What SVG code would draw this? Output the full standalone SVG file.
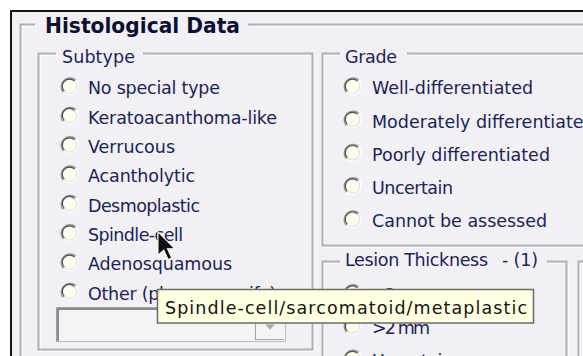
<svg xmlns="http://www.w3.org/2000/svg" width="583" height="356" viewBox="0 0 583 356">
  <style>
    text { font-family: "DejaVu Sans", Verdana, sans-serif; font-size: 17.5px; fill: #1a2455; }
    .title { font-weight: bold; font-size: 21.5px; fill: #0c1030; }
    .etch { fill: none; stroke: #b0afb4; stroke-width: 2; }
    .etch-hi { fill: none; stroke: #ffffff; stroke-width: 1; }
    .tip-text { fill: #141414; }
  </style>
  <defs>
    <!-- sunken classic radio button, centred on 0,0 -->
    <g id="radio">
      <circle r="8.2" fill="#fffdee"/>
      <path d="M-6.2,6.2 A8.8,8.8 0 0 1 6.2,-6.2" fill="none" stroke="#959595" stroke-width="1.4"/>
      <path d="M-5.1,5.1 A7.2,7.2 0 0 1 5.1,-5.1" fill="none" stroke="#4e4e4e" stroke-width="1.2"/>
      <path d="M6.2,-6.2 A8.8,8.8 0 0 1 -6.2,6.2" fill="none" stroke="#ffffff" stroke-width="1.4"/>
      <path d="M5.1,-5.1 A7.2,7.2 0 0 1 -5.1,5.1" fill="none" stroke="#e2e0da" stroke-width="1.2"/>
    </g>
  </defs>

  <!-- window surface -->
  <rect width="583" height="356" fill="#ffffff"/>
  <rect x="10" y="10" width="573" height="346" fill="#f2f0f4"/>
  <path d="M11,356 V11 H583" fill="none" stroke="#141414" stroke-width="2"/>

  <!-- etched group box frames -->
  <g id="frames">
    <g transform="translate(1.5,1.5)" class="etch-hi">
      <path d="M35,24.5 H20.5 V356 M248,24.5 H583"/>
      <path d="M56,53.5 H38.5 V349.5 H312.5 V53.5 H143"/>
      <path d="M340,53.5 H322.5 V245.5 H583 M407,53.5 H583"/>
      <path d="M340,261.5 H322.5 V356 M547,261.5 H566.5 V356"/>
      <path d="M583,261.5 H578.5 V356"/>
    </g>
    <g class="etch">
      <path d="M35,24.5 H20.5 V356 M248,24.5 H583"/>
      <path d="M56,53.5 H38.5 V349.5 H312.5 V53.5 H143"/>
      <path d="M340,53.5 H322.5 V245.5 H583 M407,53.5 H583"/>
      <path d="M340,261.5 H322.5 V356 M547,261.5 H566.5 V356"/>
      <path d="M583,261.5 H578.5 V356"/>
    </g>
  </g>

  <!-- section title -->
  <text id="histological-title" class="title" x="45" y="33" textLength="195" lengthAdjust="spacingAndGlyphs">Histological Data</text>

  <!-- Subtype options -->
  <g id="subtype">
    <text x="62" y="63.3" textLength="73">Subtype</text>
    <use href="#radio" x="69.5" y="86.3"/>
    <text x="88" y="94.3" textLength="132">No special type</text>
    <use href="#radio" x="69.5" y="115.6"/>
    <text x="88" y="123.6" textLength="189">Keratoacanthoma-like</text>
    <use href="#radio" x="69.5" y="145"/>
    <text x="88" y="153" textLength="87">Verrucous</text>
    <use href="#radio" x="69.5" y="174.3"/>
    <text x="88" y="182.3" textLength="107">Acantholytic</text>
    <use href="#radio" x="69.5" y="203.6"/>
    <text x="88" y="211.6" textLength="112">Desmoplastic</text>
    <use href="#radio" x="69.5" y="233"/>
    <text x="88" y="241" textLength="95">Spindle-cell</text>
    <use href="#radio" x="69.5" y="262.3"/>
    <text x="88" y="270.3" textLength="144">Adenosquamous</text>
    <use href="#radio" x="69.5" y="291.6"/>
    <text x="88" y="299.6" textLength="188">Other (please specify)</text>
  </g>

  <!-- disabled combo box for the free-text subtype -->
  <g id="subtype-combo">
    <rect x="56.5" y="307.5" width="229" height="34" fill="#f4f3f6"/>
    <path d="M56.5,342 V307.5 H286" fill="none" stroke="#a0a0a0" stroke-width="1"/>
    <path d="M58,341 V309 H285" fill="none" stroke="#6a6a6a" stroke-width="1.5"/>
    <path d="M57,341.5 H285.5 V307.5" fill="none" stroke="#bdbcc1" stroke-width="1"/>
    <path d="M255.5,340 V310 M255.5,339.5 H284" fill="none" stroke="#a3a3a8" stroke-width="1"/>
    <path d="M265,324.5 H275 L270,329.5 Z" fill="#a9a9ad"/>
  </g>

  <!-- Grade options -->
  <g id="grade">
    <text x="345" y="63.3" textLength="52">Grade</text>
    <use href="#radio" x="352.5" y="86.3"/>
    <text x="372" y="94.3" textLength="161">Well-differentiated</text>
    <use href="#radio" x="352.5" y="119.5"/>
    <text x="372" y="127.5">Moderately differentiated</text>
    <use href="#radio" x="352.5" y="152.7"/>
    <text x="372" y="160.7" textLength="178">Poorly differentiated</text>
    <use href="#radio" x="352.5" y="186"/>
    <text x="372" y="194" textLength="81">Uncertain</text>
    <use href="#radio" x="352.5" y="219.2"/>
    <text x="372" y="227.2" textLength="175">Cannot be assessed</text>
  </g>

  <!-- Lesion thickness options -->
  <g id="lesion-thickness">
    <text x="345" y="266" textLength="143">Lesion Thickness</text>
    <text x="502" y="266" textLength="36">- (1)</text>
    <use href="#radio" x="352.5" y="293"/>
    <text x="372" y="301" textLength="58">&lt;2 mm</text>
    <use href="#radio" x="352.5" y="326"/>
    <text x="372" y="334" textLength="58">&gt;2 mm</text>
    <use href="#radio" x="352.5" y="358.5"/>
    <text x="372" y="366.5" textLength="81">Uncertain</text>
  </g>

  <!-- hover tooltip -->
  <g id="tooltip">
    <rect x="157.5" y="289.5" width="376" height="33.5" fill="#ffffe1" stroke="#6c6c6c" stroke-width="1.5"/>
    <text class="tip-text" x="165" y="314" textLength="362">Spindle-cell/sarcomatoid/metaplastic</text>
  </g>

  <!-- mouse pointer -->
  <g id="pointer" transform="translate(158,232) scale(1.45)">
    <path d="M0,0 L0,16 L4,12.5 L7,19 L9.5,18 L6.5,11.5 L11.5,11.5 Z" fill="#101010" stroke="#ffffff" stroke-width="0.7" stroke-linejoin="miter"/>
  </g>
</svg>
